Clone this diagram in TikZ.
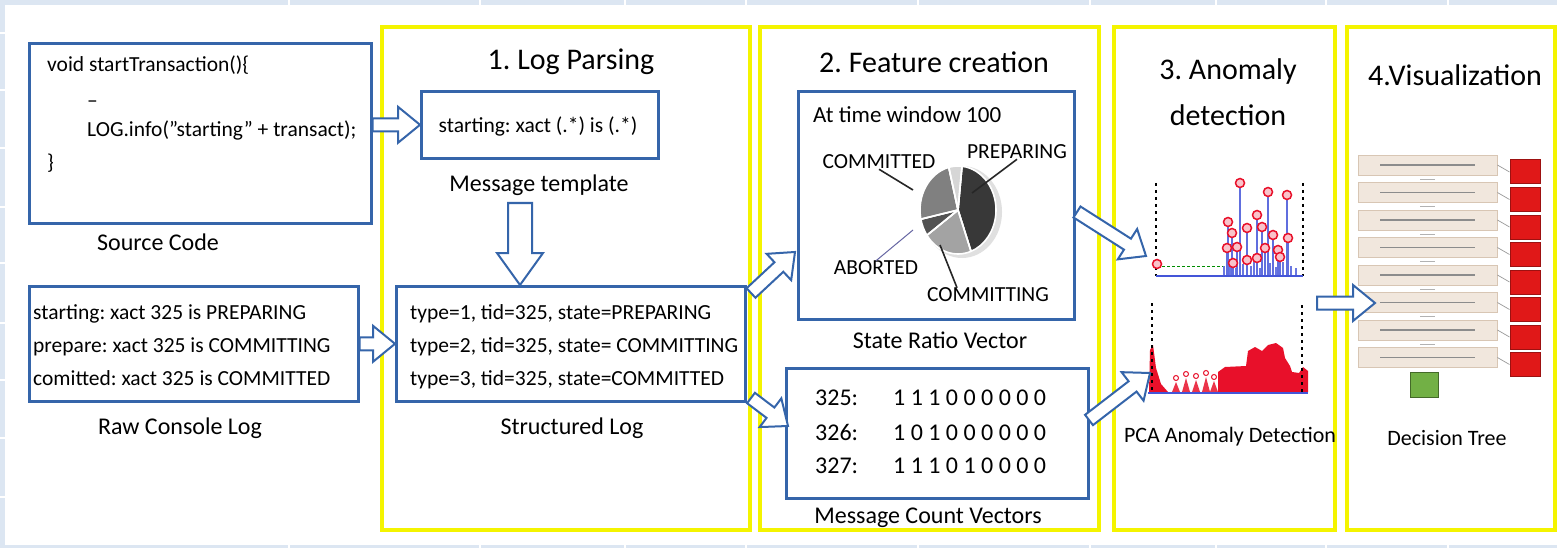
\documentclass[tikz,border=0pt]{standalone}
\usepackage{fontspec}
\setmainfont{Carlito}
\usetikzlibrary{calc}
\frenchspacing

\definecolor{bgblue}{HTML}{DCE6F2}
\definecolor{boxblue}{HTML}{3565AA}
\definecolor{panelyellow}{HTML}{F4F400}
\definecolor{plotblue}{HTML}{4455D8}
\definecolor{plotred}{HTML}{E8102A}
\definecolor{beige}{HTML}{F1E7DD}
\definecolor{beigeline}{HTML}{D8C6B4}
\definecolor{leafred}{HTML}{E01818}
\definecolor{leafgreen}{HTML}{72B045}

\tikzset{
  shaft/.store in=\bashaft, headw/.store in=\baheadw, headl/.store in=\baheadl,
  shaft=6.5pt, headw=18pt, headl=22pt,
  blockarrow/.style={draw=boxblue, line width=2pt, fill=white, line join=miter,
    to path={
      ($(\tikztostart)!\bashaft!90:(\tikztotarget)$) --
      ($(\tikztotarget)!\baheadl!(\tikztostart)!\bashaft!90:(\tikztotarget)$) --
      ($(\tikztotarget)!\baheadl!(\tikztostart)!\baheadw!90:(\tikztotarget)$) --
      (\tikztotarget) --
      ($(\tikztotarget)!\baheadl!(\tikztostart)!\baheadw!-90:(\tikztotarget)$) --
      ($(\tikztotarget)!\baheadl!(\tikztostart)!\bashaft!-90:(\tikztotarget)$) --
      ($(\tikztostart)!\bashaft!-90:(\tikztotarget)$) -- cycle}},
  box/.style={draw=boxblue, line width=2.6pt, fill=white, anchor=north west, inner sep=0pt},
  panel/.style={draw=panelyellow, line width=4pt, anchor=north west, inner sep=0pt},
  lbl/.style={font=\fontsize{24}{28}\selectfont, inner sep=0pt},
  ttl/.style={font=\fontsize{30}{36}\selectfont, inner sep=0pt},
  body/.style={font=\fontsize{21.5}{26}\selectfont, inner sep=0pt, anchor=base west},
  pielbl/.style={font=\fontsize{21.5}{26}\selectfont, inner sep=0pt},
  vec/.style={font=\fontsize{24}{28}\selectfont, inner sep=0pt, anchor=base west},
  leader/.style={line width=1.6pt, black!85},
  slice/.style={draw=white, line width=1.6pt, line join=round},
  guide/.style={black, line width=1.8pt, dash pattern=on 3pt off 4pt},
  dtbox/.style={draw=beigeline, fill=beige, line width=0.8pt, minimum width=139pt, minimum height=20pt, inner sep=0pt},
  leaf/.style={draw=leafred!70!black, fill=leafred, line width=1pt, minimum width=30pt, minimum height=24pt, inner sep=0pt},
}

\begin{document}
\begin{tikzpicture}[x=1pt,y=-1pt]
\useasboundingbox (0,0) rectangle (1557,548);

% page background with the table grid showing at the edges
\fill[bgblue] (0,0) rectangle (1557,548);
\fill[white] (5,5) rectangle (1557,545);
\foreach \gx in {289,480,625,746,918,1090,1216,1326,1448}{
  \draw[white, line width=1.4pt] (\gx,0) -- (\gx,5);
  \draw[white, line width=1.4pt] (\gx,545) -- (\gx,548);
}
\foreach \gy in {33,90,148,207,263,323,380,438,497}{
  \draw[white, line width=1.4pt] (0,\gy) -- (5,\gy);
}

% stage panels
\node[panel, minimum width=368pt, minimum height=503pt] (p1) at (380,25) {};
\node[panel, minimum width=339pt, minimum height=503pt] (p2) at (758,25) {};
\node[panel, minimum width=221pt, minimum height=503pt] (p3) at (1112,25) {};
\node[panel, minimum width=208pt, minimum height=503pt] (p4) at (1345,25) {};

% stage titles
\node[ttl] (t1) at (571,62) {1. Log Parsing};
\node[ttl] (t2) at (934,62) {2. Feature creation};
\node[ttl] (t3a) at (1228,72) {3. Anomaly};
\node[ttl] (t3b) at (1228,115) {detection};
\node[ttl] (t4) at (1455,75) {4.Visualization};

% source code
\node[box, minimum width=342pt, minimum height=180pt] (src) at (28,42) {};
\node[body] (c1) at (47,72) {void startTransaction()\{};
\node[body] (c2) at (87,108) {–};
\node[body] (c3) at (87,137) {LOG.info(”starting” + transact);};
\node[body] (c4) at (47,170) {\}};
\node[lbl] (srcl) at (158,242) {Source Code};

% raw console log
\node[box, minimum width=329pt, minimum height=115pt] (raw) at (28,285) {};
\node[body] (r1) at (33,319) {starting: xact 325 is PREPARING};
\node[body] (r2) at (33,352) {prepare: xact 325 is COMMITTING};
\node[body] (r3) at (33,385) {comitted: xact 325 is COMMITTED};
\node[lbl] (rawl) at (180,428) {Raw Console Log};

% message template
\node[box, minimum width=237pt, minimum height=67pt] (tmpl) at (420,90) {};
\node[body, anchor=center] (tt) at (538,126) {starting: xact (.*) is (.*)};
\node[lbl] (tmpll) at (539,185) {Message template};

% structured log
\node[box, minimum width=349pt, minimum height=115pt] (slog) at (395,285) {};
\node[body] (s1) at (410,319) {type=1, tid=325, state=PREPARING};
\node[body] (s2) at (410,352) {type=2, tid=325, state= COMMITTING};
\node[body] (s3) at (410,385) {type=3, tid=325, state=COMMITTED};
\node[lbl] (slogl) at (572,428) {Structured Log};

% state ratio vector
\node[box, minimum width=276pt, minimum height=228pt] (srv) at (797,90) {};
\node[body, font=\fontsize{23}{27}\selectfont] (tw) at (813,123) {At time window 100};
\fill[black!12] (962,212) ellipse[x radius=40pt, y radius=46pt];
\coordinate (pc) at (958,210);
\fill[slice, fill=black!78] (pc) -- ++(84:38pt and 44pt) arc[start angle=84, end angle=-70, x radius=38pt, y radius=44pt] -- cycle;
\fill[slice, fill=black!36] (pc) -- ++(-70:38pt and 44pt) arc[start angle=-70, end angle=-145, x radius=38pt, y radius=44pt] -- cycle;
\fill[slice, fill=black!68] (pc) -- ++(-145:38pt and 44pt) arc[start angle=-145, end angle=-168, x radius=38pt, y radius=44pt] -- cycle;
\fill[slice, fill=black!50] (pc) -- ++(-168:38pt and 44pt) arc[start angle=-168, end angle=-256, x radius=38pt, y radius=44pt] -- cycle;
\fill[slice, fill=black!16] (pc) -- ++(-256:38pt and 44pt) arc[start angle=-256, end angle=-276, x radius=38pt, y radius=44pt] -- cycle;
\draw[slice] (pc) -- ++(84:38pt and 44pt) (pc) -- ++(-70:38pt and 44pt) (pc) -- ++(-145:38pt and 44pt) (pc) -- ++(-168:38pt and 44pt) (pc) -- ++(-256:38pt and 44pt);
\node[pielbl] (lcd) at (879,162) {COMMITTED};
\node[pielbl] (lpr) at (1017,152) {PREPARING};
\node[pielbl] (lab) at (876,268) {ABORTED};
\node[pielbl] (lcg) at (988,295) {COMMITTING};
\coordinate (pcd) at (913,190);
\coordinate (ppr) at (972,193);
\coordinate (pab) at (913,230);
\coordinate (pcg) at (940,245);
\draw[leader] (lcd.south) -- (pcd);
\draw[leader] (lpr.south) -- (ppr);
\draw[line width=1pt, black!60!blue!60] (lab.north) -- (pab);
\draw[leader] (lcg.north -| 957,0) -- (pcg);
\node[lbl] (srvl) at (940,340) {State Ratio Vector};

% message count vectors
\node[box, minimum width=302pt, minimum height=130pt] (mcv) at (785,367) {};
\node[vec] (v1a) at (815,405) {325:};
\node[vec] (v1b) at (893,405) {1 1 1 0 0 0 0 0 0};
\node[vec] (v2a) at (815,440) {326:};
\node[vec] (v2b) at (893,440) {1 0 1 0 0 0 0 0 0};
\node[vec] (v3a) at (815,473) {327:};
\node[vec] (v3b) at (893,473) {1 1 1 0 1 0 0 0 0};
\node[lbl] (mcvl) at (928,518) {Message Count Vectors};

% PCA residual plot (upper)
\draw[guide] (1156,183) -- (1156,276);
\draw[guide] (1303,183) -- (1303,276);
\draw[green!55!black, line width=1pt, dash pattern=on 3pt off 2pt] (1162,266) -- (1228,266);
\foreach \sx/\sy in {1224/266,1230/262,1236/268,1243/264,1251/266,1254/262,1260/268,1270/263,1276/267,1283/262,1291/266,1296/268}{
  \draw[plotblue!80, line width=1.2pt] (\sx,276) -- (\sx,\sy);
}
\foreach \sx/\sy in {1227/248,1228/222,1232/233,1233/263,1237/247,1240/183,1247/228,1247/260,1257/215,1257/258,1262/227,1265/248,1268/192,1273/235,1278/250,1280/257,1287/195,1288/238}{
  \draw[plotblue!85, line width=1.6pt] (\sx,276) -- (\sx,\sy);
}
\foreach \sx/\sy in {1227/248,1228/222,1232/233,1233/263,1237/247,1240/183,1247/228,1247/260,1257/215,1257/258,1262/227,1265/248,1268/192,1273/235,1278/250,1280/257,1287/195,1288/238,1157/264}{
  \draw[plotred, line width=1.5pt, fill=plotred!25] (\sx,\sy) circle[radius=4.5pt];
}
\draw[plotblue, line width=2.4pt] (1156,276) -- (1303,276);

% PCA residual plot (lower)
\fill[plotred] (1149,392) -- (1150,350) -- (1153,345) -- (1156,368) -- (1161,384) -- (1168,392) -- cycle;
\foreach \bx/\bh in {1176/10,1186/14,1196/12,1206/15,1214/11}{
  \fill[plotred!85] (\bx-4,392) -- (\bx,392-\bh) -- (\bx+4,392) -- cycle;
  \draw[plotred, line width=1pt] (\bx,388-\bh) circle[radius=2.5pt];
}
\fill[plotred] (1218,392) -- (1218,372) -- (1225,367) -- (1246,366) -- (1248,351) -- (1255,347) -- (1262,351) -- (1268,345) -- (1276,343) -- (1283,348) -- (1285,358) -- (1290,366) -- (1292,372) -- (1299,373) -- (1303,367) -- (1308,371) -- (1308,392) -- cycle;
\draw[guide] (1152,303) -- (1152,392);
\draw[guide] (1302,305) -- (1302,392);
\draw[plotblue, line width=1.4pt] (1148,393) -- (1308,393);
\node[lbl, font=\fontsize{22}{26}\selectfont] (pcal) at (1230,437) {PCA Anomaly Detection};

% decision tree
\foreach \i in {0,...,7}{
  \pgfmathsetmacro{\ty}{155+27.5*\i}
  \node[dtbox] (b\i) at (1427.5,\ty+10) {};
  \draw[black!45, line width=1.1pt] (1380,\ty+10) -- (1475,\ty+10);
  \node[leaf] (l\i) at (1525,\ty+17) {};
  \draw[black!40, line width=0.7pt] (b\i.east) -- (l\i.west);
}
\foreach \i in {0,...,6}{
  \pgfmathsetmacro{\ty}{155+27.5*\i}
  \draw[black!30, line width=0.8pt] (1420,\ty+24) -- (1435,\ty+24);
}
\node[draw=leafgreen!60!black, fill=leafgreen, line width=1pt, minimum width=28pt, minimum height=25pt, inner sep=0pt] (g0) at (1424,385) {};
\node[lbl, font=\fontsize{22}{26}\selectfont] (dtl) at (1447,438) {Decision Tree};

% block arrows between stages
\coordinate (a1s) at (src.east |- tmpl.west);
\draw[blockarrow] (a1s) to (tmpl.west);
\draw[blockarrow] (raw.east) to (slog.west);
\coordinate (a3s) at (520,203);
\coordinate (a3e) at (slog.north -| a3s);
\draw[blockarrow, shaft=12pt, headw=23pt, headl=32pt] (a3s) to (a3e);
\coordinate (a4s) at (751,293);
\coordinate (a4e) at (795,252);
\draw[blockarrow] (a4s) to (a4e);
\coordinate (a5s) at (751,398);
\coordinate (a5e) at (788,426);
\draw[blockarrow] (a5s) to (a5e);
\coordinate (a6s) at (1077,212);
\coordinate (a6e) at (1146,256);
\draw[blockarrow] (a6s) to (a6e);
\coordinate (a7s) at (1089,420);
\coordinate (a7e) at (1150,373);
\draw[blockarrow] (a7s) to (a7e);
\coordinate (a8s) at (1317,303);
\coordinate (a8e) at (1375,303);
\draw[blockarrow] (a8s) to (a8e);
\end{tikzpicture}
\end{document}
